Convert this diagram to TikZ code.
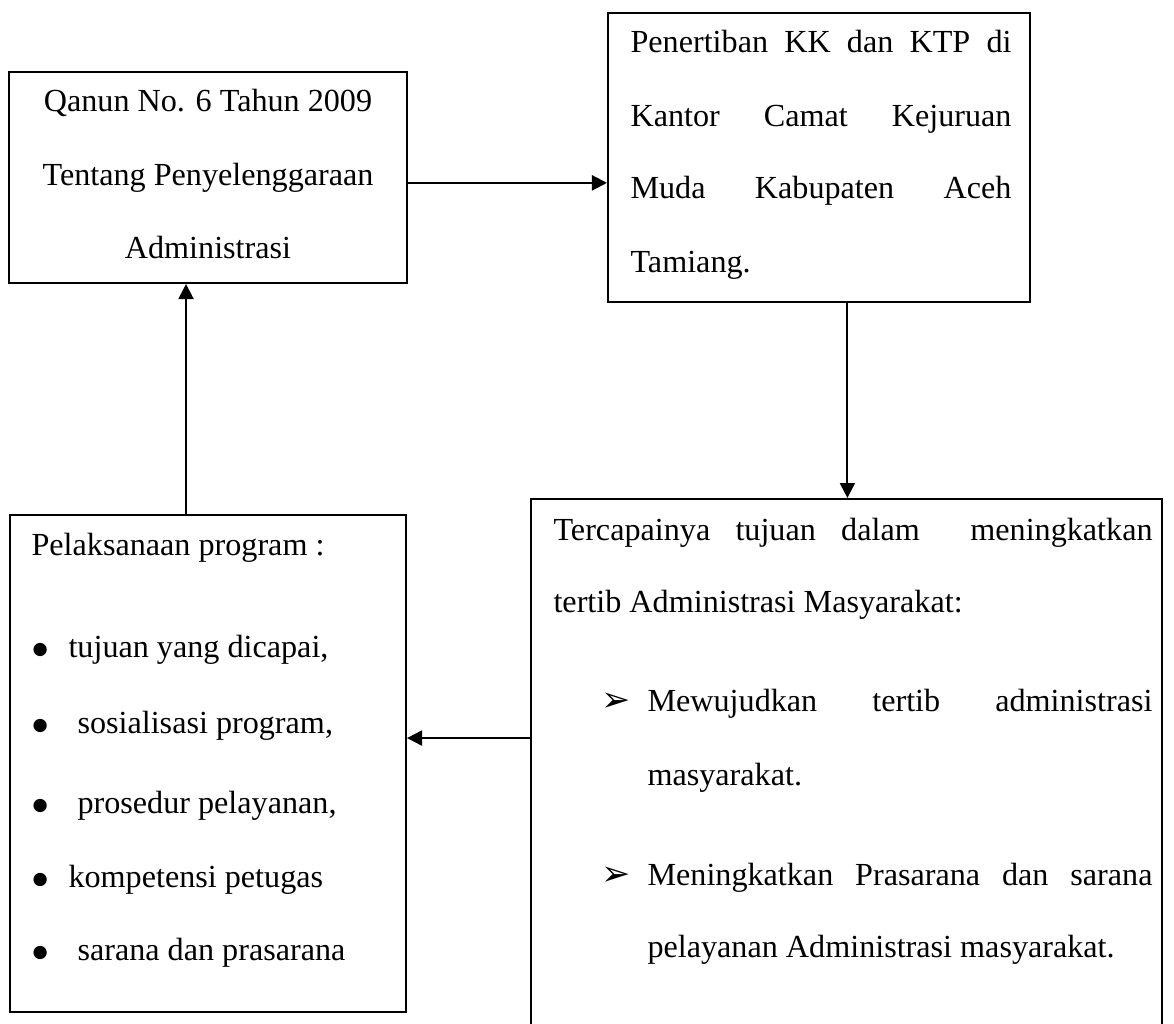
\documentclass[tikz,border=0pt]{standalone}
\usepackage{fontspec}
\setmainfont{Liberation Serif}
\newfontfamily\dingfont{DejaVu Sans}
\usetikzlibrary{arrows.meta,fit}

\newlength{\pxlen}
\setlength{\pxlen}{0.3731pt}
\newcommand{\jline}[2]{\makebox[#1\pxlen][s]{#2}}
\newcommand{\blt}{\raisebox{1.1pt}{\dingfont\fontsize{6.5}{6.5}\selectfont ●}}

\tikzset{
	box/.style={draw, line width=0.75pt, inner sep=0pt},
	txt/.style={anchor=base west, inner sep=0pt},
	ctxt/.style={anchor=base, inner sep=0pt},
	arr/.style={line width=0.75pt, -{Triangle[length=5.6pt,width=5.6pt]}}
}

\begin{document}
\begin{tikzpicture}[x=0.3731pt, y=-0.3731pt, font=\fontsize{12}{14}\selectfont]

	\useasboundingbox (0,0) rectangle (1174,1023);

	% boxes
	\node[box, fit={(9,72) (407,283)}] (qanun) {};
	\node[box, fit={(608,13) (1030,302)}] (penertiban) {};
	\node[box, fit={(531,499) (1162,1060)}] (tujuan) {};
	\node[box, fit={(10,515) (406,1012)}] (pelaksanaan) {};

	% Qanun
	\foreach \yy/\txt in {111/Qanun No. 6 Tahun 2009, 185/Tentang Penyelenggaraan, 258/Administrasi}
		\node[ctxt] (q\yy) at (208,\yy) {\txt};

	% Penertiban
	\node[txt] (pn1) at (630,52) {\jline{381}{Penertiban KK dan KTP di}};
	\node[txt] (pn2) at (630,126) {\jline{381}{Kantor Camat Kejuruan}};
	\node[txt] (pn3) at (630,198) {\jline{381}{Muda Kabupaten Aceh}};
	\node[txt] (pn4) at (630,272) {Tamiang.};

	% Tercapainya tujuan
	\node[txt] (tj1) at (553,540) {\jline{599}{Tercapainya tujuan dalam\ \ meningkatkan}};
	\node[txt] (tj2) at (553,612) {tertib Administrasi Masyarakat:};
	\foreach \yy in {711, 885}
		\node[txt] (ar\yy) at (601,\yy) {\dingfont\fontsize{13}{13}\selectfont ➢};
	\node[txt] (tj3) at (647,711) {\jline{505}{Mewujudkan tertib administrasi}};
	\node[txt] (tj4) at (647,785) {masyarakat.};
	\node[txt] (tj5) at (647,885) {\jline{505}{Meningkatkan Prasarana dan sarana}};
	\node[txt] (tj6) at (647,957) {pelayanan Administrasi masyarakat.};

	% Pelaksanaan program
	\node[txt] (pl0) at (31,555) {Pelaksanaan program :};
	\foreach \yy/\xx/\txt in {657/68/{tujuan yang dicapai,}, 733/77/{sosialisasi program,}, 813/77/{prosedur pelayanan,}, 887/68/{kompetensi petugas}, 960/77/{sarana dan prasarana}}
	{
		\node[txt] (bl\yy) at (32,\yy) {\blt};
		\node[txt] (pl\yy) at (\xx,\yy) {\txt};
	}

	% connectors
	\draw[arr] ([yshift=-2pt]qanun.east) -- ([yshift=-2pt]qanun.east -| penertiban.west);
	\draw[arr] ([xshift=10.6pt]penertiban.south) -- ([xshift=10.6pt]penertiban.south |- tujuan.north);
	\draw[arr] ([yshift=9.5pt]pelaksanaan.east -| tujuan.west) -- ([yshift=9.5pt]pelaksanaan.east);
	\draw[arr] ([xshift=-8.2pt]pelaksanaan.north) -- ([xshift=-8.2pt]pelaksanaan.north |- qanun.south);

\end{tikzpicture}
\end{document}
